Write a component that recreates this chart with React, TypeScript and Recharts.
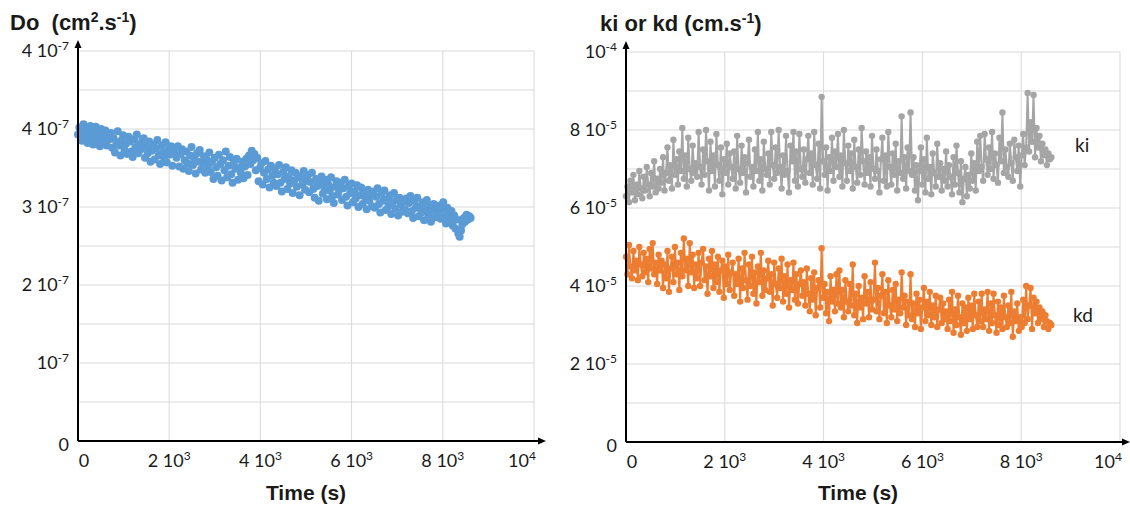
import { LineChart, Line, XAxis, YAxis, CartesianGrid } from 'recharts'

// sampling times (s)
const times = [
  0, 30, 60, 90, 120, 150, 180, 210, 240, 270, 300, 330, 360, 390, 420, 450, 480, 510, 540, 570, 600, 630, 660, 690,
  720, 750, 780, 810, 840, 870, 900, 930, 960, 990, 1020, 1050, 1080, 1110, 1140, 1170, 1200, 1230, 1260, 1290, 1320, 1350, 1380, 1410,
  1440, 1470, 1500, 1530, 1560, 1590, 1620, 1650, 1680, 1710, 1740, 1770, 1800, 1830, 1860, 1890, 1920, 1950, 1980, 2010, 2040, 2070, 2100, 2130,
  2160, 2190, 2220, 2250, 2280, 2310, 2340, 2370, 2400, 2430, 2460, 2490, 2520, 2550, 2580, 2610, 2640, 2670, 2700, 2730, 2760, 2790, 2820, 2850,
  2880, 2910, 2940, 2970, 3000, 3030, 3060, 3090, 3120, 3150, 3180, 3210, 3240, 3270, 3300, 3330, 3360, 3390, 3420, 3450, 3480, 3510, 3540, 3570,
  3600, 3630, 3660, 3690, 3720, 3750, 3780, 3810, 3840, 3870, 3900, 3930, 3960, 3990, 4020, 4050, 4080, 4110, 4140, 4170, 4200, 4230, 4260, 4290,
  4320, 4350, 4380, 4410, 4440, 4470, 4500, 4530, 4560, 4590, 4620, 4650, 4680, 4710, 4740, 4770, 4800, 4830, 4860, 4890, 4920, 4950, 4980, 5010,
  5040, 5070, 5100, 5130, 5160, 5190, 5220, 5250, 5280, 5310, 5340, 5370, 5400, 5430, 5460, 5490, 5520, 5550, 5580, 5610, 5640, 5670, 5700, 5730,
  5760, 5790, 5820, 5850, 5880, 5910, 5940, 5970, 6000, 6030, 6060, 6090, 6120, 6150, 6180, 6210, 6240, 6270, 6300, 6330, 6360, 6390, 6420, 6450,
  6480, 6510, 6540, 6570, 6600, 6630, 6660, 6690, 6720, 6750, 6780, 6810, 6840, 6870, 6900, 6930, 6960, 6990, 7020, 7050, 7080, 7110, 7140, 7170,
  7200, 7230, 7260, 7290, 7320, 7350, 7380, 7410, 7440, 7470, 7500, 7530, 7560, 7590, 7620, 7650, 7680, 7710, 7740, 7770, 7800, 7830, 7860, 7890,
  7920, 7950, 7980, 8010, 8040, 8070, 8100, 8130, 8160, 8190, 8220, 8250, 8280, 8310, 8340, 8370, 8400, 8430, 8460, 8490, 8520, 8550, 8580, 8610,
]

// Do, in units of 1e-7 cm2/s
const doValues = [
  3.93, 4.02, 3.97, 3.85, 4.06, 3.90, 3.99, 3.82, 3.95, 4.04, 3.88, 3.80, 3.97, 4.03, 3.86, 3.92, 3.78, 4.00, 3.91, 3.84, 3.98, 3.79, 3.94, 3.87,
  3.95, 3.76, 3.88, 3.70, 3.83, 3.97, 3.79, 3.66, 3.86, 3.92, 3.73, 3.81, 3.68, 3.90, 3.84, 3.71, 3.64, 3.87, 3.77, 3.93, 3.69, 3.80, 3.74, 3.85,
  3.88, 3.63, 3.77, 3.69, 3.84, 3.58, 3.72, 3.80, 3.61, 3.75, 3.86, 3.66, 3.55, 3.79, 3.70, 3.62, 3.83, 3.57, 3.74, 3.67, 3.78, 3.53, 3.69, 3.76,
  3.63, 3.78, 3.52, 3.68, 3.74, 3.49, 3.60, 3.71, 3.56, 3.46, 3.66, 3.77, 3.54, 3.62, 3.43, 3.69, 3.58, 3.73, 3.48, 3.57, 3.65, 3.44, 3.61, 3.52,
  3.70, 3.45, 3.58, 3.36, 3.63, 3.51, 3.40, 3.67, 3.55, 3.34, 3.60, 3.47, 3.71, 3.38, 3.53, 3.64, 3.42, 3.31, 3.57, 3.49, 3.62, 3.35, 3.50, 3.44,
  3.58, 3.37, 3.52, 3.62, 3.41, 3.66, 3.55, 3.72, 3.60, 3.68, 3.47, 3.63, 3.33, 3.50, 3.56, 3.29, 3.44, 3.59, 3.36, 3.48, 3.25, 3.53, 3.40, 3.31,
  3.49, 3.27, 3.42, 3.54, 3.31, 3.20, 3.45, 3.36, 3.51, 3.23, 3.39, 3.30, 3.47, 3.18, 3.34, 3.44, 3.26, 3.40, 3.15, 3.37, 3.29, 3.46, 3.22, 3.33,
  3.41, 3.19, 3.32, 3.44, 3.23, 3.12, 3.36, 3.27, 3.08, 3.30, 3.39, 3.17, 3.25, 3.35, 3.10, 3.29, 3.21, 3.38, 3.14, 3.05, 3.26, 3.33, 3.16, 3.22,
  3.31, 3.09, 3.24, 3.35, 3.13, 3.02, 3.27, 3.18, 3.30, 3.06, 3.20, 3.11, 3.28, 3.00, 3.15, 3.25, 3.04, 3.19, 3.12, 2.97, 3.22, 3.08, 3.16, 3.01,
  3.20, 2.99, 3.13, 3.24, 3.04, 2.93, 3.17, 3.08, 3.21, 2.96, 3.10, 3.01, 3.15, 2.91, 3.06, 3.18, 2.98, 3.09, 2.89, 3.12, 3.03, 2.94, 3.07, 2.97,
  3.11, 2.92, 3.05, 3.14, 2.95, 2.86, 3.08, 2.99, 3.12, 2.88, 3.01, 2.93, 3.06, 2.83, 2.97, 3.09, 2.90, 3.02, 2.81, 2.96, 3.04, 2.87, 2.99, 2.91,
  3.02, 2.85, 2.97, 3.06, 2.88, 2.79, 2.99, 2.92, 2.83, 2.95, 2.76, 2.89, 2.72, 2.84, 2.66, 2.62, 2.70, 2.78, 2.86, 2.81, 2.90, 2.84, 2.88, 2.86,
]

// ki and kd, in units of 1e-5 cm/s
const kiValues = [
  6.30, 6.55, 6.15, 6.70, 6.40, 6.85, 6.20, 6.60, 6.35, 6.95, 6.50, 6.25, 6.80, 6.45, 7.05, 6.60, 6.30, 6.90, 6.55, 7.20, 6.40, 6.75, 6.50, 7.00,
  6.65, 7.30, 6.45, 6.90, 7.55, 6.70, 7.10, 6.50, 7.75, 6.85, 7.25, 6.60, 7.45, 6.95, 8.05, 6.75, 7.35, 6.55, 7.80, 7.00, 6.70, 7.60, 6.90, 7.15,
  6.80, 7.95, 7.05, 6.60, 7.50, 6.85, 8.00, 7.20, 6.45, 7.70, 6.95, 7.35, 6.55, 7.90, 7.10, 6.70, 7.55, 6.35, 7.25, 6.90, 7.65, 6.60, 7.40, 7.05,
  6.75, 7.45, 6.50, 7.85, 7.00, 6.65, 7.60, 6.90, 7.30, 6.40, 7.15, 7.75, 6.80, 7.05, 6.55, 7.50, 6.95, 7.95, 6.70, 7.25, 6.45, 7.70, 7.00, 6.85,
  7.40, 6.60, 7.95, 7.10, 6.75, 7.55, 6.90, 8.00, 7.05, 6.50, 7.35, 6.85, 7.85, 6.95, 6.40, 7.60, 7.20, 7.95, 6.70, 7.45, 6.55, 7.90, 7.00, 6.80,
  7.50, 6.65, 7.25, 7.85, 6.90, 7.40, 6.60, 7.95, 7.10, 6.75, 7.65, 6.50, 8.85, 7.20, 6.85, 7.55, 6.45, 7.30, 6.95, 7.80, 6.70, 7.45, 7.05, 7.90,
  6.80, 7.35, 6.55, 8.00, 7.15, 6.70, 7.60, 6.95, 7.40, 6.50, 7.75, 7.05, 6.65, 7.50, 6.85, 8.05, 7.20, 6.60, 7.45, 6.90, 7.30, 6.55, 7.85, 7.00,
  6.75, 7.50, 6.95, 6.40, 7.25, 7.80, 6.70, 7.35, 6.55, 7.95, 7.05, 6.60, 7.40, 6.85, 7.65, 6.45, 7.20, 6.90, 8.35, 6.75, 7.30, 6.50, 7.55, 6.95,
  8.45, 6.85, 7.30, 6.45, 7.10, 6.20, 6.95, 7.55, 6.60, 7.25, 6.40, 7.80, 6.75, 7.05, 6.35, 7.40, 6.90, 6.55, 7.65, 6.80, 7.15, 6.45, 7.00, 6.70,
  7.45, 6.55, 7.10, 6.80, 6.35, 7.30, 6.60, 7.60, 6.90, 6.40, 7.20, 6.15, 6.75, 7.05, 6.30, 6.85, 6.50, 7.40, 6.70, 7.15, 6.45, 7.70, 6.95, 7.85,
  7.05, 6.70, 7.90, 7.25, 6.85, 7.55, 7.00, 7.95, 6.75, 7.40, 7.10, 6.65, 7.80, 7.20, 8.45, 6.90, 7.50, 7.05, 6.80, 7.65, 7.15, 6.70, 7.75, 7.30,
  6.95, 7.60, 6.55, 7.35, 7.90, 7.10, 7.55, 8.95, 7.45, 8.20, 7.70, 8.90, 7.30, 8.05, 7.55, 7.85, 7.20, 7.65, 7.35, 7.50, 7.10, 7.40, 7.25, 7.30,
]

const kdValues = [
  4.75, 4.30, 5.05, 4.50, 4.20, 4.90, 4.40, 4.65, 4.15, 5.00, 4.55, 4.25, 4.85, 4.35, 4.70, 4.10, 4.95, 4.45, 5.10, 4.30, 4.60, 4.05, 4.80, 4.40,
  4.65, 3.95, 4.55, 4.20, 4.90, 3.85, 4.45, 4.75, 4.10, 5.00, 4.30, 4.60, 3.90, 4.85, 4.25, 5.22, 4.40, 4.70, 4.00, 5.10, 4.35, 4.80, 3.95, 4.55,
  4.20, 4.85, 4.00, 4.60, 4.95, 4.15, 4.50, 3.80, 4.70, 4.25, 4.90, 3.95, 4.55, 4.10, 4.75, 3.85, 4.40, 4.65, 3.70, 4.50, 4.05, 4.80, 3.90, 4.35,
  4.60, 3.75, 4.30, 4.05, 4.70, 3.60, 4.45, 3.95, 4.85, 4.15, 3.65, 4.55, 4.00, 4.75, 3.80, 4.35, 3.55, 4.50, 4.10, 4.85, 3.75, 4.40, 3.90, 4.20,
  4.65, 3.85, 4.30, 3.50, 4.60, 4.05, 3.70, 4.45, 3.95, 4.70, 3.60, 4.25, 3.80, 4.55, 3.45, 4.15, 3.90, 4.60, 3.65, 4.30, 3.55, 4.05, 4.40, 3.75,
  4.10, 3.50, 4.45, 3.80, 3.35, 4.20, 3.65, 4.35, 3.25, 3.95, 4.15, 3.45, 4.97, 3.70, 4.05, 3.30, 3.85, 3.10, 4.25, 3.60, 3.90, 3.35, 4.30, 3.55,
  4.40, 3.45, 3.90, 3.20, 4.15, 3.60, 3.35, 4.05, 3.50, 4.55, 3.25, 3.80, 3.05, 4.00, 3.45, 3.70, 3.15, 4.25, 3.55, 3.85, 3.20, 4.10, 3.40, 3.65,
  4.60, 3.35, 3.95, 3.15, 3.75, 4.30, 3.30, 3.85, 3.05, 4.15, 3.50, 3.20, 3.90, 3.40, 4.05, 3.10, 3.65, 3.30, 4.35, 3.45, 3.75, 3.00, 3.60, 3.25,
  4.30, 3.15, 3.55, 2.95, 3.80, 3.30, 3.65, 2.90, 3.45, 3.95, 3.10, 3.60, 3.25, 3.85, 3.00, 3.50, 3.20, 3.75, 2.95, 3.40, 3.70, 3.05, 3.55, 3.15,
  3.35, 2.90, 3.65, 3.10, 3.85, 2.80, 3.40, 3.00, 3.75, 3.20, 2.75, 3.55, 3.05, 3.45, 2.85, 3.70, 3.15, 3.50, 2.90, 3.80, 3.25, 2.95, 3.60, 3.10,
  3.80, 2.95, 3.40, 3.15, 3.85, 2.85, 3.55, 3.05, 3.80, 3.25, 2.80, 3.60, 3.00, 3.45, 2.90, 3.75, 3.20, 2.95, 3.50, 3.05, 3.85, 2.70, 3.35, 3.10,
  3.55, 2.85, 3.20, 2.95, 3.65, 3.05, 4.00, 3.15, 3.50, 3.95, 2.90, 3.70, 3.30, 3.60, 3.05, 3.45, 3.15, 3.35, 2.95, 3.25, 3.10, 2.90, 3.05, 3.00,
]

// ticks; '^' marks the exponent
const timeTicks = [0, 2000, 4000, 6000, 8000, 10000]
const timeTickLabels = ['0', '2 10^3', '4 10^3', '6 10^3', '8 10^3', '10^4']
const doTicks = [0, 0.5, 1, 1.5, 2, 2.5, 3, 3.5, 4, 4.5, 5]
const doTickLabels = ['0', '', '10^-7', '', '2 10^-7', '', '3 10^-7', '', '4 10^-7', '', '4 10^-7']
const kTicks = [0, 1, 2, 3, 4, 5, 6, 7, 8, 9, 10]
const kTickLabels = ['0', '', '2 10^-5', '', '4 10^-5', '', '6 10^-5', '', '8 10^-5', '', '10^-4']

const BLUE = '#5B9BD5'
const GREY = '#A5A5A5'
const ORANGE = '#ED7D31'
const GRID = '#D9D9D9'
const TEXT = '#1a1a1a'

const doData = times.map((t, i) => ({ t, d: doValues[i] }))
const kData = times.map((t, i) => ({ t, ki: kiValues[i], kd: kdValues[i] }))

const SupText = ({ x, y, label, anchor }: any) => {
  if (!label) return null
  const [base, exp] = label.split('^')
  return (
    <text x={x} y={y} textAnchor={anchor} fontFamily="Lato" fontSize={18} fill={TEXT}>
      {base}
      {exp && (
        <tspan dy={-7} fontSize={12}>
          {exp}
        </tspan>
      )}
    </text>
  )
}

const xTick = (props: any) => {
  const { x, y, payload } = props
  const i = timeTicks.indexOf(payload.value)
  // the first and last labels sit a little inside the axis ends
  const dx = payload.value === 0 ? 6 : payload.value === 10000 ? -12 : 0
  return <SupText x={x + dx} y={y + 18} label={timeTickLabels[i]} anchor="middle" />
}

const yTick = (ticks: number[], labels: string[]) => (props: any) => {
  const { x, y, payload } = props
  const i = ticks.indexOf(payload.value)
  const dy = payload.value === 0 ? 10 : 6
  return <SupText x={x - 1} y={y + dy} label={labels[i]} anchor="end" />
}

// layout of the two plot areas
const L = { x: 78, top: 51, right: 534, bottom: 441 }
const R = { x: 626, top: 52, right: 1120, bottom: 442 }

const Arrows = ({ p, tipX }: any) => (
  <g stroke="#000" strokeWidth={2} fill="#000">
    <line x1={p.x} y1={p.bottom} x2={p.x} y2={p.top - 6} />
    <polygon points={`${p.x - 3.5},${p.top - 3} ${p.x + 3.5},${p.top - 3} ${p.x},${p.top - 11}`} strokeWidth={0} />
    <line x1={p.x} y1={p.bottom} x2={tipX - 5} y2={p.bottom} />
    <polygon points={`${tipX - 8},${p.bottom - 3.5} ${tipX - 8},${p.bottom + 3.5} ${tipX},${p.bottom}`} strokeWidth={0} />
  </g>
)

export default function App() {
  return (
    <div style={{ position: 'absolute', left: 0, top: 0, width: 1130, height: 510, background: '#fff' }}>
      <div style={{ position: 'absolute', left: 0, top: 0 }}>
        <LineChart width={560} height={510} data={doData} margin={{ top: L.top, right: 560 - L.right, left: 0, bottom: 0 }}>
          <CartesianGrid stroke={GRID} strokeWidth={1} />
          <XAxis
            dataKey="t"
            type="number"
            domain={[0, 10000]}
            ticks={timeTicks}
            interval={0}
            height={510 - L.bottom}
            tickLine={false}
            axisLine={{ stroke: '#000', strokeWidth: 2 }}
            tick={xTick}
          />
          <YAxis
            type="number"
            domain={[0, 5]}
            ticks={doTicks}
            interval={0}
            width={L.x}
            tickLine={false}
            axisLine={{ stroke: '#000', strokeWidth: 2 }}
            tick={yTick(doTicks, doTickLabels)}
          />
          <Line
            dataKey="d"
            stroke="none"
            dot={{ r: 4, fill: BLUE, stroke: 'none' }}
            activeDot={false}
            isAnimationActive={false}
          />
        </LineChart>
      </div>
      <div style={{ position: 'absolute', left: 560, top: 0 }}>
        <LineChart width={570} height={510} data={kData} margin={{ top: R.top, right: 1130 - R.right, left: 0, bottom: 0 }}>
          <CartesianGrid stroke={GRID} strokeWidth={1} />
          <XAxis
            dataKey="t"
            type="number"
            domain={[0, 10000]}
            ticks={timeTicks}
            interval={0}
            height={510 - R.bottom}
            tickLine={false}
            axisLine={{ stroke: '#000', strokeWidth: 2 }}
            tick={xTick}
          />
          <YAxis
            type="number"
            domain={[0, 10]}
            ticks={kTicks}
            interval={0}
            width={R.x - 560}
            tickLine={false}
            axisLine={{ stroke: '#000', strokeWidth: 2 }}
            tick={yTick(kTicks, kTickLabels)}
          />
          <Line
            dataKey="ki"
            stroke={GREY}
            strokeWidth={2}
            dot={{ r: 3.2, fill: GREY, stroke: 'none' }}
            activeDot={false}
            isAnimationActive={false}
          />
          <Line
            dataKey="kd"
            stroke={ORANGE}
            strokeWidth={2}
            dot={{ r: 3.2, fill: ORANGE, stroke: 'none' }}
            activeDot={false}
            isAnimationActive={false}
          />
        </LineChart>
      </div>
      <svg width={1130} height={510} style={{ position: 'absolute', left: 0, top: 0, pointerEvents: 'none' }}>
        <Arrows p={L} tipX={546} />
        <Arrows p={R} tipX={1130} />
        <g fontFamily="Liberation Sans, Arial, sans-serif" fontWeight="bold" fontSize={22} fill={TEXT}>
          <text x={10} y={30} xmlSpace="preserve">
            Do{'  '}(cm<tspan dy={-8} fontSize={14}>2</tspan>
            <tspan dy={8}>.s</tspan>
            <tspan dy={-8} fontSize={14}>-1</tspan>
            <tspan dy={8}>)</tspan>
          </text>
          <text x={600} y={31}>
            ki or kd (cm.s<tspan dy={-8} fontSize={14}>-1</tspan>
            <tspan dy={8}>)</tspan>
          </text>
        </g>
        <g fontFamily="Liberation Sans, Arial, sans-serif" fontWeight="bold" fontSize={21} fill={TEXT}>
          <text x={306} y={500} textAnchor="middle">Time (s)</text>
          <text x={858} y={500} textAnchor="middle">Time (s)</text>
        </g>
        <g fontFamily="Lato" fontSize={19} fill={TEXT}>
          <text x={1075} y={152}>ki</text>
          <text x={1073} y={322}>kd</text>
        </g>
      </svg>
    </div>
  )
}
